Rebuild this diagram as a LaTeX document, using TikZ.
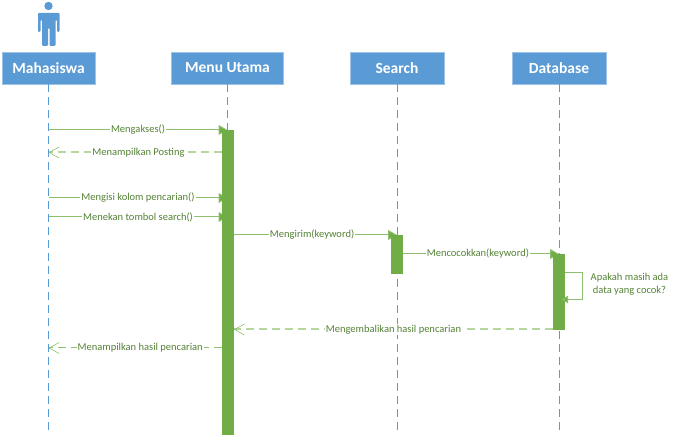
\documentclass[tikz,border=0pt]{standalone}
\usepackage{fontspec}
\setmainfont{Carlito}
\usepackage{xcolor}
\usetikzlibrary{arrows.meta, positioning}
\definecolor{boxblue}{HTML}{5B9BD5}
\definecolor{barGreen}{HTML}{70AD47}
\definecolor{lineGreen}{HTML}{8DBF6E}
\definecolor{dashGreen}{HTML}{B5D69F}
\definecolor{textGreen}{HTML}{548235}
\tikzset{
	objbox/.style={draw=boxblue!60, fill=boxblue, text=white, font=\bfseries\fontsize{15.5}{17}\selectfont, minimum height=32pt, inner sep=0pt},
	lifeline/.style={draw=boxblue, dash pattern=on 8pt off 5pt, line width=0.7pt},
	activebar/.style={fill=barGreen, draw=none, minimum width=12pt, inner sep=0pt},
	callmsg/.style={draw=lineGreen, line width=1pt, -{Triangle[length=9pt,width=10pt,fill=barGreen]}},
	replymsg/.style={draw=dashGreen, line width=2pt, dash pattern=on 8pt off 5pt},
	replytip/.style={draw=lineGreen, line width=0.6pt, {Straight Barb[length=10pt,width=11pt]}-},
	msglabel/.style={fill=white, text=textGreen, font=\fontsize{10.5}{13}\selectfont, inner sep=1pt},
}
\begin{document}
\begin{tikzpicture}[x=1pt, y=-1pt]
	\useasboundingbox (0,0) rectangle (677,435);
	% actor
	\fill[boxblue] (48.5,6) circle (4.2);
	\fill[boxblue, rounded corners=1pt] (38,13) -- (59.5,13) -- (59.5,32) -- (57,32) -- (57,20) -- (55.5,20) -- (55.5,46) -- (49.5,46) -- (49.5,28) -- (48,28) -- (48,46) -- (42,46) -- (42,20) -- (40.5,20) -- (40.5,32) -- (38,32) -- cycle;
	% objects
	\node[objbox, minimum width=93pt] (mahasiswa) at (48.5,68) {Mahasiswa};
	\node[objbox, minimum width=112pt] (menu) at (227.5,68) {Menu Utama};
	\node[objbox, minimum width=94pt] (search) at (397,68) {Search};
	\node[objbox, minimum width=94pt] (database) at (559,68) {Database};
	% lifelines
	\coordinate (mahasiswaEnd) at (48.5,435);
	\coordinate (menuEnd) at (227.5,435);
	\coordinate (searchEnd) at (397,435);
	\coordinate (databaseEnd) at (559,435);
	\draw[lifeline] (mahasiswa.south) -- (mahasiswaEnd);
	\draw[lifeline] (menu.south) -- (menuEnd);
	\draw[lifeline] (search.south) -- (searchEnd);
	\draw[lifeline] (database.south) -- (databaseEnd);
	% points on the student's lifeline
	\coordinate (m1) at (48.5,130);
	\coordinate (m2) at (48.5,152.5);
	\coordinate (m3) at (48.5,198);
	\coordinate (m4) at (48.5,217);
	\coordinate (m5) at (48.5,348);
	\coordinate (k1) at (233.7,235);
	\coordinate (k2) at (403,254);
	\coordinate (k3) at (553,329.5);
	% calls run in behind the bars
	\draw[callmsg] (m1) -- node[msglabel, pos=.50] (lblAkses) {Mengakses()} (menuEnd |- m1);
	\draw[callmsg] (m3) -- node[msglabel, pos=.50] (lblIsi) {Mengisi kolom pencarian()} (menuEnd |- m3);
	\draw[callmsg] (m4) -- node[msglabel, pos=.50] (lblTekan) {Menekan tombol search()} (menuEnd |- m4);
	\draw[callmsg] (k1) -- node[msglabel, pos=.48] (lblKirim) {Mengirim(keyword)} (searchEnd |- k1);
	\draw[callmsg] (k2) -- node[msglabel, pos=.48] (lblCocok) {Mencocokkan(keyword)} (databaseEnd |- k2);
	% activations
	\node[activebar, minimum height=305pt] (barMenu) at (227.7,282.5) {};
	\node[activebar, minimum height=39pt] (barSearch) at (397,254.5) {};
	\node[activebar, minimum height=76pt] (barDatabase) at (559,292) {};
	% replies
	\draw[replymsg] (barMenu.west |- m2) -- node[msglabel, pos=.48] (lblPosting) {Menampilkan Posting} (m2);
	\draw[replytip] (m2) -- ++(1,0);
	\draw[replymsg] (k3) -- node[msglabel, pos=.50] (lblBalik) {Mengembalikan hasil pencarian} (barMenu.east |- k3);
	\draw[replytip] (barMenu.east |- k3) -- ++(1,0);
	\draw[replymsg, draw=lineGreen, line width=1pt] (barMenu.west |- m5) -- node[msglabel, pos=.47] (lblHasil) {Menampilkan hasil pencarian} (m5);
	\draw[replytip] (m5) -- ++(1,0);
	% self call
	\coordinate (selfA) at (barDatabase.east |- 0,273);
	\coordinate (selfB) at (barDatabase.east |- 0,299.5);
	\draw[draw=lineGreen, line width=1pt, -{Triangle[length=6pt,width=8pt,fill=barGreen]}] (selfA) -- (582.5,273) -- (582.5,299.5) -- ([xshift=-3pt]selfB);
	\node[msglabel, align=center, fill=none] (lblSelf) at (629.5,284.5) {Apakah masih ada\\data yang cocok?};
\end{tikzpicture}
\end{document}
